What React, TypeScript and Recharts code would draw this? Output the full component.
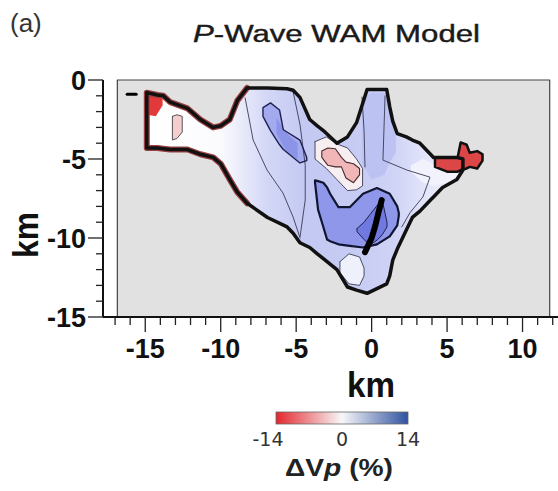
import React from "react";
import { ComposedChart, Area, Line, XAxis, YAxis } from "recharts";

// axes (km)
const xDomain: [number, number] = [-17.8, 12.35];
const yDomain: [number, number] = [-15, 0];
const xMajor = [-15, -10, -5, 0, 5, 10];
const yMajor = [0, -5, -10, -15];
const xTicks = [-17, -16, -15, -14, -13, -12, -11, -10, -9, -8, -7, -6, -5, -4, -3, -2, -1, 0, 1, 2, 3, 4, 5, 6, 7, 8, 9, 10, 11, 12];
const yTicks = [0, -1, -2, -3, -4, -5, -6, -7, -8, -9, -10, -11, -12, -13, -14, -15];
const colorbarTicks = [-14, 0, 14];

// zones as [x, bottom, top] in km
const mapExtent = [[-16.85, -15, 0], [11.8, -15, 0]];
const resolvedZone = [
  [-14.9, -4.3, -0.8], [-14.2, -4.3, -0.95], [-13.8, -4.35, -1.0], [-13.35, -4.4, -1.4],
  [-12.2, -4.4, -1.8], [-11.35, -4.7, -2.5], [-10.5, -4.9, -3.0], [-10.0, -5.3, -2.9],
  [-9.4, -6.3, -2.5], [-8.9, -7.1, -1.3], [-8.25, -7.8, -0.5], [-6.9, -8.7, -0.5],
  [-5.6, -9.3, -0.55], [-5.2, -9.7, -0.65], [-4.75, -10.3, -1.1], [-4.1, -10.6, -2.5],
  [-3.6, -11.0, -2.9], [-3.2, -11.3, -3.2], [-2.3, -12.0, -4.0], [-1.6, -13.1, -3.6],
  [-1.0, -13.3, -2.7], [-0.3, -13.5, -0.6], [1.0, -12.9, -0.6], [1.2, -12.4, -1.7],
  [1.4, -11.4, -2.6], [1.7, -10.7, -3.4], [2.3, -9.5, -3.6], [2.7, -8.7, -3.8],
  [3.2, -8.3, -4.0], [3.9, -7.6, -4.7], [4.1, -7.4, -4.9], [4.7, -6.8, -4.9],
  [5.65, -6.3, -4.9], [6.05, -5.7, -5.0],
];
const eastSlow = [[4.2, -5.5, -4.9], [5.0, -5.8, -4.9], [5.7, -5.8, -4.9], [5.9, -5.7, -3.95], [6.3, -5.6, -4.1], [6.5, -5.5, -4.6], [7.0, -5.6, -4.5], [7.35, -5.1, -4.7]];
const westSlow = [[-14.87, -2.2, -0.82], [-14.3, -2.3, -0.9], [-13.85, -1.6, -1.0]];
const westSpeck = [[-13.2, -3.8, -2.3], [-12.9, -3.7, -2.2], [-12.55, -3.3, -2.3]];
const northLobe = [[-7.2, -2.3, -1.75], [-6.7, -3.2, -1.45], [-6.1, -4.1, -1.9], [-5.85, -4.4, -3.15], [-4.75, -5.25, -3.8], [-4.3, -5.1, -4.9]];
const northLobeCore = [[-6.3, -3.4, -2.4], [-5.6, -4.6, -3.4], [-4.9, -5.0, -4.0]];
const fingerBand = [[-0.65, -5.3, -1.1], [0.0, -6.3, -0.8], [0.85, -6.0, -0.8], [1.2, -5.2, -2.0], [1.6, -4.6, -3.6]];
const eastPale = [[2.6, -5.8, -5.4], [3.4, -6.5, -5.0], [4.2, -6.7, -5.4], [5.4, -6.3, -5.7]];
const southPale = [[-2.1, -12.2, -11.5], [-1.5, -12.9, -11.0], [-0.8, -13.0, -11.2], [-0.5, -12.4, -11.9]];
const slowHalo = [[-3.75, -5.0, -3.9], [-3.0, -5.6, -3.6], [-2.3, -6.3, -4.05], [-1.6, -7.0, -4.3], [-1.0, -6.95, -5.0], [-0.6, -6.7, -5.6]];
const slowCore = [[-3.3, -4.9, -4.5], [-2.9, -5.4, -4.3], [-2.4, -5.5, -4.35], [-2.0, -5.5, -4.9], [-1.7, -6.2, -5.2], [-1.2, -6.5, -5.3], [-0.8, -6.0, -5.6]];
const fastZone = [
  [-3.75, -6.5, -6.35], [-3.55, -8.2, -6.4], [-3.2, -9.3, -6.5], [-2.95, -10.1, -6.8],
  [-2.75, -10.2, -7.2], [-2.2, -10.4, -8.05], [-1.45, -10.5, -8.05], [-0.57, -10.6, -7.2],
  [0.35, -10.4, -6.84], [1.2, -9.9, -7.2], [1.7, -9.2, -8.0], [1.8, -8.6, -8.4],
];
const fastCore = [[-0.97, -9.6, -9.4], [-0.5, -10.1, -9.0], [-0.1, -10.45, -8.5], [0.4, -10.1, -7.9], [0.7, -9.8, -7.6], [1.02, -9.3, -9.0]];

// contour lines and seismicity as [x, y]
const contourWest = [[-8.38, -1.14], [-7.85, -3.8], [-6.93, -5.7], [-5.87, -7.16], [-5.2, -8.68], [-4.74, -10.0]];
const contourMid = [[-5.2, -0.76], [-4.74, -2.85], [-4.4, -5.39], [-4.4, -7.6], [-4.74, -9.9]];
const contourFingerW = [[-0.64, -1.08], [-0.5, -3.2], [-0.44, -5.5]];
const contourFingerE = [[0.89, -1.0], [0.75, -5.07], [2.34, -5.7], [3.87, -6.15], [3.4, -7.4], [2.54, -8.4], [2.0, -9.3]];
const quakes = [[0.67, -7.6], [0.45, -8.4], [0.25, -9.2], [0.0, -10.0], [-0.44, -10.9]];
const dash = [[-16.2, -0.9], [-15.6, -0.9]];

const toRange = (rows: number[][]) => rows.map(([x, lo, hi]) => ({ x, r: [lo, hi] }));
const toOutline = (rows: number[][]) => [
  ...rows.map(([x, , hi]) => ({ x, y: hi })),
  ...rows.slice().reverse().map(([x, lo]) => ({ x, y: lo })),
  { x: rows[0][0], y: rows[0][2] },
];
// open rim: bottom edge right->left, then top edge left->right
const toRim = (rows: number[][]) => [
  ...rows.slice().reverse().map(([x, lo]) => ({ x, y: lo })),
  ...rows.map(([x, , hi]) => ({ x, y: hi })),
];
const toPath = (pts: number[][]) => pts.map(([x, y]) => ({ x, y }));

const font = "'Liberation Sans', Arial, sans-serif";

const XTick = (props: any) => {
  const { x, y, payload } = props;
  const major = xMajor.includes(payload.value);
  return (
    <g>
      <line x1={x} x2={x} y1={y} y2={y + (major ? 15 : 8)} stroke="#222" strokeWidth={1.3} />
      {major && (
        <text x={x} y={y + 41} textAnchor="middle" fontSize={27} fontWeight="bold" fill="#111" fontFamily={font}>
          {payload.value}
        </text>
      )}
    </g>
  );
};

const YTick = (props: any) => {
  const { x, y, payload } = props;
  const major = yMajor.includes(payload.value);
  return (
    <g>
      <line x1={x - (major ? 15 : 7)} x2={x} y1={y} y2={y} stroke="#222" strokeWidth={1.3} />
      {major && (
        <text x={x - 17} y={y + 9.5} textAnchor="end" fontSize={27} fontWeight="bold" fill="#111" fontFamily={font}>
          {payload.value}
        </text>
      )}
    </g>
  );
};

const zone = (key: string, rows: number[][], fill: string) => (
  <Area key={key} data={toRange(rows)} dataKey="r" type="linear" fill={fill} fillOpacity={1} stroke="none" isAnimationActive={false} activeDot={false} />
);
const edge = (key: string, pts: { x: number; y: number }[], stroke: string, width: number) => (
  <Line key={key} data={pts} dataKey="y" type="linear" stroke={stroke} strokeWidth={width} dot={false} activeDot={false} isAnimationActive={false} strokeLinejoin="round" strokeLinecap="round" />
);

export default function App() {
  const westRows = resolvedZone.filter((r) => r[0] <= -8.25);
  return (
    <div style={{ position: "absolute", left: 0, top: 0, width: 558, height: 491, background: "#fff" }}>
      <ComposedChart width={558} height={491} margin={{ top: 80, right: 0, left: 43, bottom: 124 }}>
        <defs>
          <linearGradient id="velFill" x1="0" y1="0" x2="1" y2="0">
            <stop offset="0" stopColor="#ffffff" />
            <stop offset="0.23" stopColor="#fbfbfe" />
            <stop offset="0.3" stopColor="#e9ebfa" />
            <stop offset="0.38" stopColor="#d3d7f6" />
            <stop offset="0.5" stopColor="#c4c9f3" />
            <stop offset="0.65" stopColor="#c6cbf3" />
            <stop offset="0.78" stopColor="#cfd3f5" />
            <stop offset="0.9" stopColor="#e6e8fa" />
            <stop offset="1" stopColor="#f5f5fc" />
          </linearGradient>
        </defs>
        <XAxis type="number" dataKey="x" domain={xDomain} ticks={xTicks} interval={0} height={50}
          tickSize={0} tickMargin={0} tickLine={false} tick={(p: any) => <XTick {...p} />}
          axisLine={{ stroke: "#111", strokeWidth: 2 }} />
        <YAxis type="number" domain={yDomain} ticks={yTicks} interval={0} width={60}
          tickSize={0} tickMargin={0} tickLine={false} tick={(p: any) => <YTick {...p} />}
          axisLine={{ stroke: "#111", strokeWidth: 2 }} />
        {zone("extent", mapExtent, "#e1e1e1")}
        {zone("resolved", resolvedZone, "url(#velFill)")}
        {zone("westSpeck", westSpeck, "#f6cdcd")}
        {zone("westSlow", westSlow, "#e23a3a")}
        {zone("fingerBand", fingerBand, "#bcc2f1")}
        {zone("eastPale", eastPale, "#f1f2fc")}
        {zone("eastSlow", eastSlow, "#dc4646")}
        {zone("southPale", southPale, "#eef0fb")}
        {zone("northLobe", northLobe, "#a3aaee")}
        {zone("northLobeCore", northLobeCore, "#8c94e8")}
        {zone("slowHalo", slowHalo, "#f7eef1")}
        {zone("slowCore", slowCore, "#f1b6b8")}
        {zone("fastZone", fastZone, "#8e97e9")}
        {zone("fastCore", fastCore, "#6f79df")}
        {edge("extentEdge", toPath([[-16.85, 0], [11.8, 0], [11.8, -15], [-16.85, -15], [-16.85, 0]]), "#444", 1.2)}
        {edge("contourWest", toPath(contourWest), "#3a3a55", 0.9)}
        {edge("contourMid", toPath(contourMid), "#3a3a55", 0.9)}
        {edge("contourFingerW", toPath(contourFingerW), "#3a3a55", 0.9)}
        {edge("contourFingerE", toPath(contourFingerE), "#3a3a55", 0.9)}
        {edge("southPaleEdge", toOutline(southPale), "#3a3a55", 0.9)}
        {edge("slowHaloEdge", toOutline(slowHalo), "#3a3a55", 0.9)}
        {edge("slowCoreEdge", toOutline(slowCore), "#4a2a2a", 1.1)}
        {edge("westSpeckEdge", toOutline(westSpeck), "#555", 1)}
        {edge("northLobeEdge", toOutline(northLobe), "#1e2250", 1.4)}
        {edge("fastCoreEdge", toOutline(fastCore), "#1e2250", 1)}
        {edge("fastZoneEdge", toOutline(fastZone), "#111630", 2.2)}
        {edge("westRim", toRim(westRows), "#9a4040", 6)}
        {edge("resolvedEdge", toOutline(resolvedZone), "#111", 3.5)}
        {edge("eastSlowEdge", toOutline(eastSlow), "#111", 2.5)}
        {edge("quakes", toPath(quakes), "#000", 6)}
        {edge("dash", toPath(dash), "#000", 3)}
      </ComposedChart>
      <svg width={558} height={491} style={{ position: "absolute", left: 0, top: 0, pointerEvents: "none" }}>
        <defs>
          <linearGradient id="cbar" x1="0" y1="0" x2="1" y2="0">
            <stop offset="0" stopColor="#e4262e" />
            <stop offset="0.5" stopColor="#f7f7f8" />
            <stop offset="1" stopColor="#2f52a0" />
          </linearGradient>
        </defs>
        <text x={10} y={32} fontSize={26} fill="#333" fontFamily={font}>(a)</text>
        <text x={193} y={42} fontSize={23} fill="#1a1a1a" fontFamily={font} textLength={287} lengthAdjust="spacingAndGlyphs" stroke="#1a1a1a" strokeWidth={0.4}>
          <tspan fontStyle="italic">P</tspan>-Wave WAM Model
        </text>
        <text x={371} y={397} textAnchor="middle" fontSize={35} fontWeight="bold" fill="#111" fontFamily={font} textLength={48} lengthAdjust="spacingAndGlyphs">km</text>
        <text transform="translate(38,235) rotate(-90)" textAnchor="middle" fontSize={35} fontWeight="bold" fill="#111" fontFamily={font} textLength={46} lengthAdjust="spacingAndGlyphs">km</text>
        <rect x={276} y={412} width={132} height={12} fill="url(#cbar)" stroke="#666" strokeWidth={0.8} />
        {colorbarTicks.map((t, i) => (
          <text key={t} x={276 + (132 * (t - colorbarTicks[0])) / (colorbarTicks[2] - colorbarTicks[0]) - (i === 0 ? 8 : 0)} y={446} textAnchor="middle" fontSize={19} fill="#333" fontFamily="'DejaVu Sans', sans-serif">
            {t}
          </text>
        ))}
        <text x={339} y={476} textAnchor="middle" fontSize={23} fontWeight="bold" fill="#222" fontFamily={font} textLength={108} lengthAdjust="spacingAndGlyphs">
          ΔV<tspan fontStyle="italic">p</tspan> (%)
        </text>
      </svg>
    </div>
  );
}
